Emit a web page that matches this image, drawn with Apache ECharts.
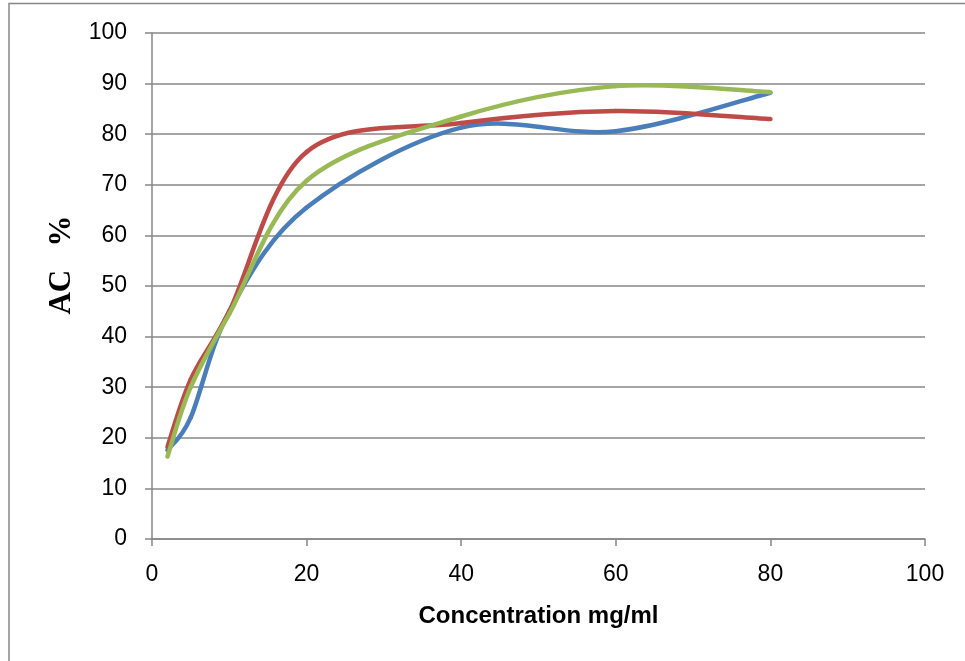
<!DOCTYPE html>
<html>
<head>
<meta charset="utf-8">
<script src="https://cdn.jsdelivr.net/npm/echarts@6/dist/echarts.min.js"></script>
<style>
  html, body { margin: 0; padding: 0; background: #fff; }
  #chart { width: 965px; height: 661px; }
</style>
</head>
<body>
<div id="chart"></div>
<script>
// Concentration (mg/ml) at which activity was measured
const concentration = [2, 5, 10, 20, 40, 60, 80];
// AC % for the three samples
const sampleBlue  = [17.6, 24.0, 45.0, 65.5, 81.3, 80.6, 88.2];
const sampleRed   = [18.2, 31.5, 45.0, 76.5, 82.2, 84.6, 83.0];
const sampleGreen = [16.3, 30.0, 44.5, 70.8, 83.5, 89.5, 88.3];
// Axis ticks
const xTicks = [0, 20, 40, 60, 80, 100];
const yTicks = [0, 10, 20, 30, 40, 50, 60, 70, 80, 90, 100];

const gridColor = '#878787';

// Smoothed scatter line: one cubic Bezier per segment, control arms
// taken from the neighbouring points (Catmull-Rom style, 1/6 of the chord).
function smoothSeries(name, values, color) {
  const pts = concentration.map((c, i) => [c, values[i]]);
  const n = pts.length;
  return {
    type: 'custom',
    name: name,
    data: pts,
    encode: { x: 0, y: 1 },
    renderItem: function (params, api) {
      const i = params.dataIndex;
      if (i >= n - 1) return null;
      const P = k => api.coord(pts[Math.max(0, Math.min(n - 1, k))]);
      const p0 = P(i - 1), p1 = P(i), p2 = P(i + 1), p3 = P(i + 2);
      return {
        type: 'bezierCurve',
        shape: {
          x1: p1[0], y1: p1[1],
          x2: p2[0], y2: p2[1],
          cpx1: p1[0] + (p2[0] - p0[0]) / 6,
          cpy1: p1[1] + (p2[1] - p0[1]) / 6,
          cpx2: p2[0] - (p3[0] - p1[0]) / 6,
          cpy2: p2[1] - (p3[1] - p1[1]) / 6
        },
        style: { stroke: color, lineWidth: 4.5, fill: null, lineCap: 'round' }
      };
    }
  };
}

const chart = echarts.init(document.getElementById('chart'), null, { renderer: 'canvas' });

chart.setOption({
  animation: false,
  backgroundColor: '#ffffff',
  graphic: [{
    type: 'rect',
    shape: { x: 9, y: 3.5, width: 1000, height: 700 },
    style: { fill: null, stroke: gridColor, lineWidth: 1.5 },
    silent: true,
    z: -1
  }],
  grid: { left: 152, right: 40, top: 33, bottom: 122, containLabel: false },
  xAxis: {
    type: 'value',
    min: xTicks[0],
    max: xTicks[xTicks.length - 1],
    interval: xTicks[1] - xTicks[0],
    name: 'Concentration mg/ml',
    nameLocation: 'middle',
    nameGap: 65,
    nameTextStyle: { fontFamily: 'Liberation Sans', fontWeight: 'bold', fontSize: 24, color: '#000' },
    axisLine: { show: true, lineStyle: { color: gridColor, width: 1.5 } },
    axisTick: { show: true, length: 7, lineStyle: { color: gridColor, width: 1.5 } },
    axisLabel: { fontFamily: 'Liberation Sans', fontSize: 23, color: '#000', margin: 24 },
    splitLine: { show: false }
  },
  yAxis: {
    type: 'value',
    min: yTicks[0],
    max: yTicks[yTicks.length - 1],
    interval: yTicks[1] - yTicks[0],
    name: 'AC   %',
    nameLocation: 'middle',
    nameGap: 73,
    nameTextStyle: {
      fontFamily: 'Liberation Serif', fontWeight: 'bold', fontSize: 31, color: '#000',
      padding: [0, 0, 0, 42]
    },
    axisLine: { show: true, lineStyle: { color: gridColor, width: 1.5 } },
    axisTick: { show: true, length: 7, lineStyle: { color: gridColor, width: 1.5 } },
    axisLabel: { fontFamily: 'Liberation Sans', fontSize: 23, color: '#000', margin: 25 },
    splitLine: { show: true, lineStyle: { color: gridColor, width: 1.5 } }
  },
  series: [
    smoothSeries('Sample 1', sampleBlue, '#4A7EBB'),
    smoothSeries('Sample 2', sampleRed, '#BE4B48'),
    smoothSeries('Sample 3', sampleGreen, '#98B954')
  ]
});
</script>
</body>
</html>
